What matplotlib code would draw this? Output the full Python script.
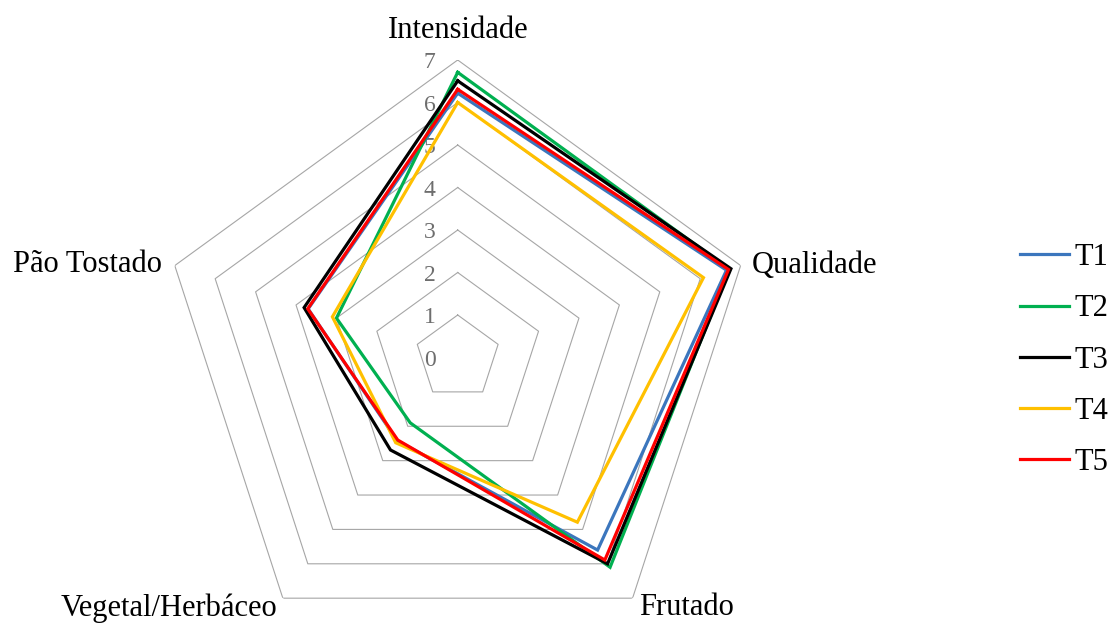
import numpy as np
import matplotlib
matplotlib.use("Agg")
import matplotlib.pyplot as plt
from matplotlib.lines import Line2D

plt.rcParams['font.family'] = ['Liberation Serif', 'DejaVu Serif']

categories = ["Intensidade", "Qualidade", "Frutado", "Vegetal/Herbáceo", "Pão Tostado"]
series_names = ["T1", "T2", "T3", "T4", "T5"]
t1 = [6.22, 6.65, 5.60, 2.42, 3.70]
t2 = [6.71, 6.72, 6.10, 1.90, 3.00]
t3 = [6.51, 6.76, 6.00, 2.69, 3.80]
t4 = [6.00, 6.08, 4.79, 2.48, 3.10]
t5 = [6.31, 6.70, 5.89, 2.40, 3.71]
series_values = [t1, t2, t3, t4, t5]
series_colors = ["#3B76BD", "#00B050", "#000000", "#FFC000", "#FF0000"]
tick_values = [0, 1, 2, 3, 4, 5, 6, 7]

W, H = 1110, 624
fig = plt.figure(figsize=(W / 100, H / 100), dpi=100)

cx, cy, rad = 457.7, H - 357.5, 297.5
ax = fig.add_axes([(cx - rad) / W, (cy - rad) / H, 2 * rad / W, 2 * rad / H],
                  projection="polar")
ax.set_theta_offset(np.pi / 2)
ax.set_theta_direction(-1)
ax.set_ylim(0, 7)
ax.axis("off")

n = len(categories)
theta = np.linspace(0, 2 * np.pi, n, endpoint=False)
theta_closed = np.append(theta, theta[0])

# pentagon grid rings
for v in tick_values[1:]:
    ax.plot(theta_closed, [v] * (n + 1), color="#A6A6A6", lw=0.8, zorder=1)

# series polygons
for vals, col in zip(series_values, series_colors):
    ax.plot(theta_closed, vals + vals[:1], color=col, lw=2.3, zorder=3,
            solid_joinstyle="miter")

# value tick labels along the top axis
for v in tick_values:
    ax.annotate(str(v), xy=(0, v), xytext=(-16, -2), textcoords="offset points",
                ha="right", va="center", fontsize=17, color="#6E6E6E", zorder=2)

# category labels
offsets = [((0, 21), "center", "center"),
           ((8, 0), "left", "center"),
           ((5, -7), "left", "center"),
           ((-4, -7), "right", "center"),
           ((-9, 1), "right", "center")]
for t, name, (off, ha, va) in zip(theta, categories, offsets):
    ax.annotate(name, xy=(t, 7), xytext=off, textcoords="offset points",
                ha=ha, va=va, fontsize=22, color="black", annotation_clip=False)

handles = [Line2D([0], [0], color=c, lw=2.3) for c in series_colors]
fig.legend(handles, series_names, loc="center left",
           bbox_to_anchor=(1020 / W, (H - 360) / H), frameon=False,
           fontsize=22, handlelength=1.6, handletextpad=0.17,
           labelspacing=0.73, borderpad=0, borderaxespad=0)

fig.savefig("out.png", dpi=100)
